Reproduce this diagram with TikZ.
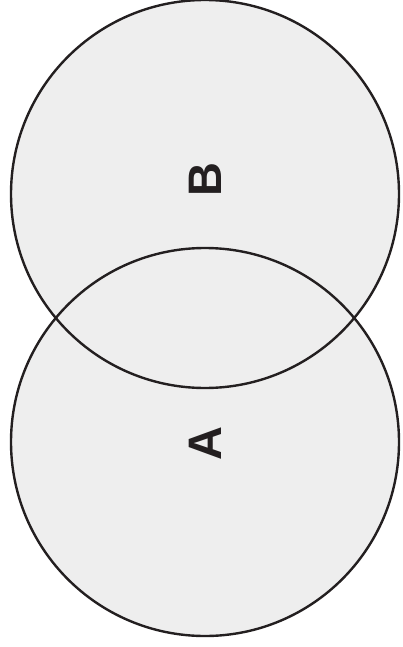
\documentclass[tikz,border=0pt]{standalone}
\usepackage{fontspec}
\setmainfont{Liberation Sans}
\usetikzlibrary{positioning}
\definecolor{vennfill}{HTML}{EEEEEE}
\definecolor{vennline}{HTML}{231F20}
\tikzset{
  vennset/.style={line width=2.4pt, draw=vennline},
  vennlabel/.style={rotate=90, font=\fontsize{47}{47}\selectfont\bfseries, text=vennline, inner sep=0pt},
}
\begin{document}
\begin{tikzpicture}[x=1pt, y=-1pt]
  \useasboundingbox (0,0) rectangle (402,647);
  \coordinate (cb) at (205,194);
  \coordinate (ca) at (205,442);
  % fill both sets first, then the outlines
  \fill[vennfill] (cb) circle (194) (ca) circle (194);
  \draw[vennset] (ca) circle (194);
  \draw[vennset] (cb) circle (194);
  \node[vennlabel] (lb) at (205,180) {B};
  \node[vennlabel] (la) at (205,444) {A};
\end{tikzpicture}
\end{document}
